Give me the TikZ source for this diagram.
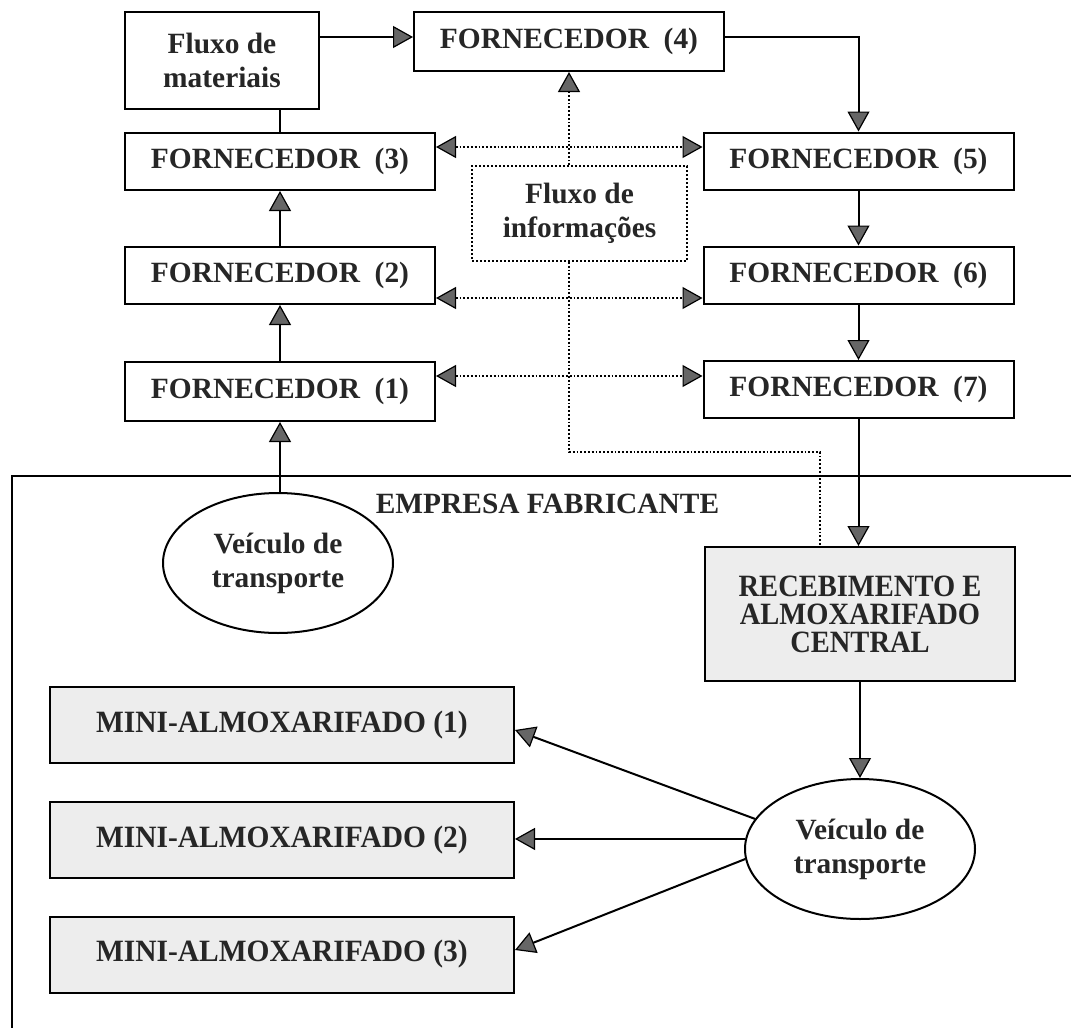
\documentclass[tikz,border=0pt]{standalone}
\usepackage{fontspec}
\setmainfont{Liberation Serif}
\newfontfamily\shadedfont[FakeStretch=0.92]{Liberation Serif}
\newfontfamily\minifont[FakeStretch=0.95]{Liberation Serif}
\usetikzlibrary{arrows.meta,shapes.geometric,calc}

\tikzset{
  Tri/.tip={Triangle[length=10pt,width=11pt,fill=black!60,line width=0.6pt]},
  box/.style={draw, rectangle, line width=1pt, inner sep=0pt, align=center,
    text=black!85, font=\bfseries\fontsize{14.7}{17}\selectfont},
  supp/.style={box, minimum width=155pt, minimum height=28.5pt},
  shadedbox/.style={box, fill=black!7},
  infobox/.style={box, densely dotted, line width=0.9pt},
  vehicle/.style={ellipse, draw, line width=1pt, inner sep=0pt,
    minimum width=115pt, minimum height=70pt, align=center, text=black!85,
    font=\bfseries\fontsize{14.7}{17}\selectfont},
  flow/.style={line width=1pt, -Tri},
  infoline/.style={densely dotted, line width=0.9pt},
}

\begin{document}
\begin{tikzpicture}[x=0.5pt,y=-0.5pt]
\useasboundingbox (0,0) rectangle (1071,1028);

% supplier chain
\node[box, minimum width=97pt, minimum height=48.5pt] (mat) at (222,60.5) {Fluxo de\\materiais};
\node[supp, minimum height=29.5pt] (f4) at (569,41.5) {FORNECEDOR\ \ (4)};
\node[supp] (f3) at (280,161.5) {FORNECEDOR\ \ (3)};
\node[supp] (f2) at (280,275.5) {FORNECEDOR\ \ (2)};
\node[supp, minimum height=29.5pt] (f1) at (280,391.5) {FORNECEDOR\ \ (1)};
\node[supp] (f5) at (858.5,161) {FORNECEDOR\ \ (5)};
\node[supp] (f6) at (858.5,275) {FORNECEDOR\ \ (6)};
\node[supp] (f7) at (858.5,389.5) {FORNECEDOR\ \ (7)};
\node[infobox, minimum width=107.5pt, minimum height=47.5pt] (inf) at (579.5,213.5) {Fluxo de\\informações};

% manufacturer
\draw[line width=1pt] (1071,476) -- (12,476) -- (12,1028);
\node[anchor=base, text=black!85, font=\bfseries\fontsize{14.7}{17}\selectfont] (emp) at (547.5,513) {EMPRESA FABRICANTE};
\node[vehicle] (v1) at (278,563) {Veículo de\\transporte};
\node[shadedbox, minimum width=155pt, minimum height=67pt,
  font=\shadedfont\bfseries\fontsize{15.5}{14}\selectfont] (rec) at (860,614)
  {RECEBIMENTO E\\ALMOXARIFADO\\CENTRAL};
\node[vehicle] (v2) at (860,849) {Veículo de\\transporte};
\node[shadedbox, minimum width=232pt, minimum height=38pt,
  font=\minifont\bfseries\fontsize{15.5}{17}\selectfont] (m1) at (282,725) {MINI-ALMOXARIFADO (1)};
\node[shadedbox, minimum width=232pt, minimum height=38pt,
  font=\minifont\bfseries\fontsize{15.5}{17}\selectfont] (m2) at (282,840) {MINI-ALMOXARIFADO (2)};
\node[shadedbox, minimum width=232pt, minimum height=38pt,
  font=\minifont\bfseries\fontsize{15.5}{17}\selectfont] (m3) at (282,954.5) {MINI-ALMOXARIFADO (3)};

% material flow
\draw[flow] (mat.east |- 0,37) -- (f4.west |- 0,37);
\draw[line width=1pt] (f3.north |- mat.south) -- (f3.north);
\draw[flow] (f2.north) -- (f3.south);
\draw[flow] (f1.north) -- (f2.south);
\draw[flow] (f1.south |- v1.north) -- (f1.south);
\draw[flow] (f4.east |- 0,37) -| (f5.north);
\draw[flow] (f5.south) -- (f6.north);
\draw[flow] (f6.south) -- (f7.north);
\draw[flow] (f7.south) -- (f7.south |- rec.north);
\draw[flow] (rec.south) -- (rec.south |- v2.north);
\draw[flow] (v2.164) -- ($(m1.east)+(0,5)$);
\draw[flow] (v2.175) -- (m2.east |- v2.175);
\draw[flow] (v2.185) -- ($(m3.east)+(0,-4.5)$);

% information flow
\draw[infoline,-Tri] (f4.south |- inf.north) -- (f4.south);
\draw[infoline,Tri-Tri] (f3.east |- 0,147) -- (f5.west |- 0,147);
\draw[infoline,Tri-Tri] (f2.east |- 0,298) -- (f6.west |- 0,298);
\draw[infoline,Tri-Tri] (f1.east |- 0,376) -- (f7.west |- 0,376);
\draw[infoline] (f4.south |- inf.south) -- (f4.south |- 0,452) -| (rec.north -| 820,0);
\end{tikzpicture}
\end{document}
